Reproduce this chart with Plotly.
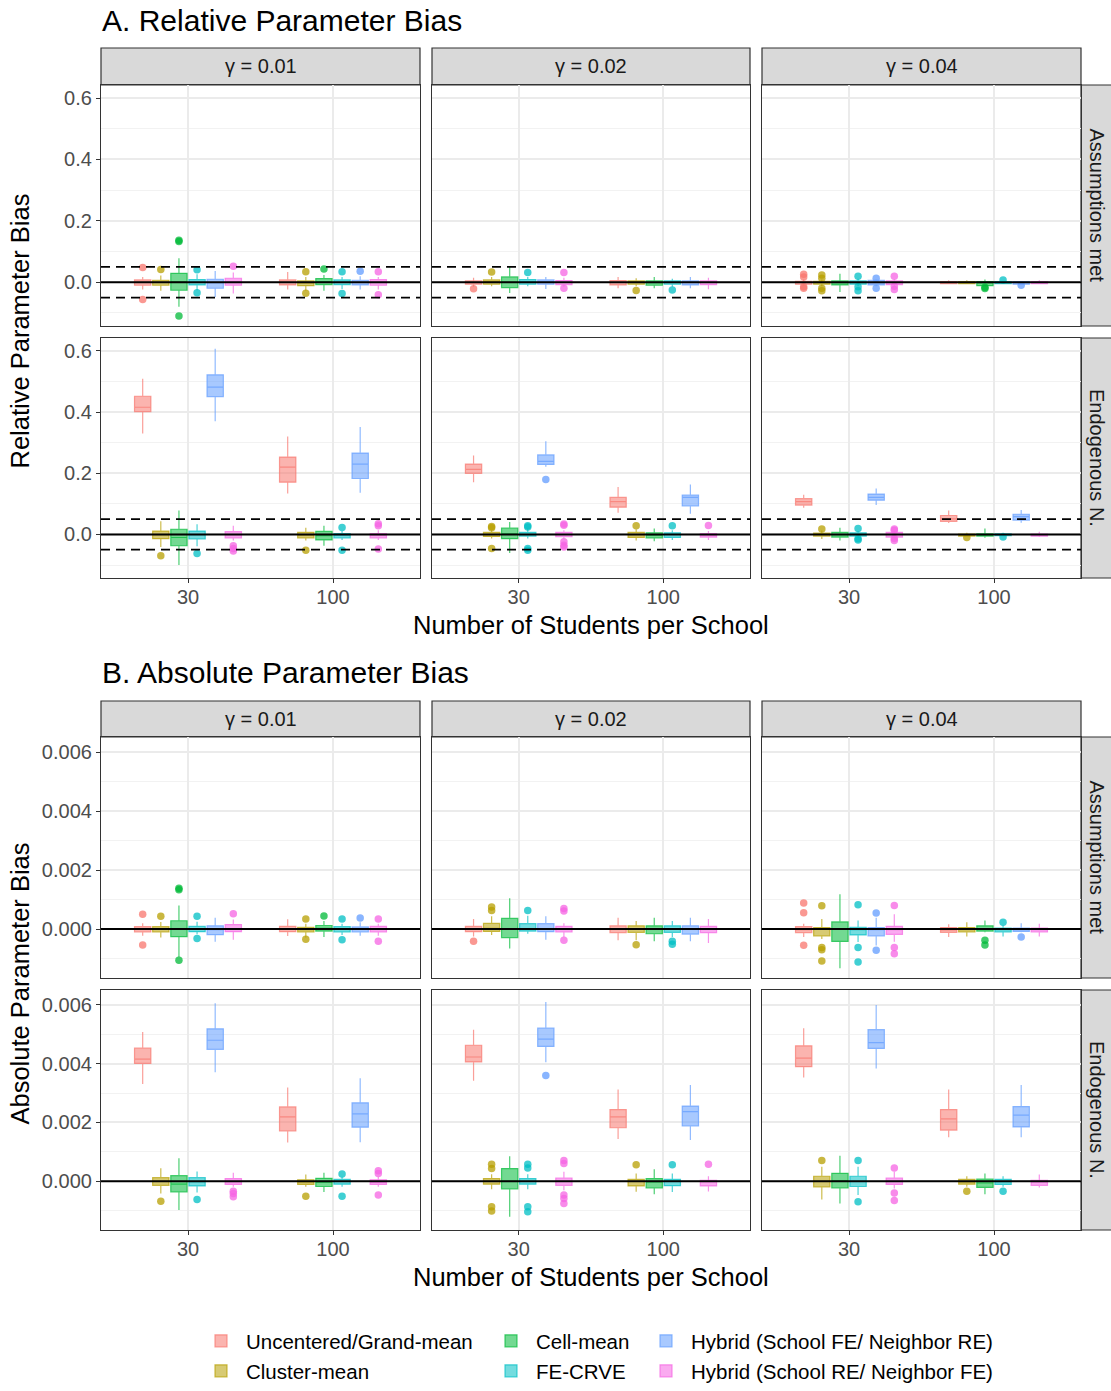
import plotly.graph_objects as go

W, H = 1111, 1391

methods = ["Uncentered/Grand-mean", "Cluster-mean", "Cell-mean", "FE-CRVE",
           "Hybrid (School FE/ Neighbor RE)", "Hybrid (School RE/ Neighbor FE)"]
colors = ["#F8766D", "#B79F00", "#00BA38", "#00BFC4", "#619CFF", "#F564E3"]
n_students = ["30", "100"]
gammas = ["γ = 0.01", "γ = 0.02", "γ = 0.04"]
row_labels = ["Assumptions met", "Endogenous N."]
section_titles = ["A. Relative Parameter Bias", "B. Absolute Parameter Bias"]
y_titles = ["Relative Parameter Bias", "Absolute Parameter Bias"]
x_title = "Number of Students per School"

# each stat: 6 methods x [n=30, n=100]
rel_met_g01 = dict(
    lo=[[-0.024, -0.024], [-0.028, -0.028], [-0.080, -0.028], [-0.026, -0.0217], [-0.048, -0.024], [-0.037, -0.024]],
    q1=[[-0.0098, -0.0087], [-0.0098, -0.011], [-0.026, -0.0076], [-0.0087, -0.0076], [-0.0196, -0.0087], [-0.0098, -0.0098]],
    med=[[0.0, 0.0], [0.0, -0.002], [0.001, 0.002], [0.0, 0.0], [-0.001, 0.0], [0.001, 0.001]],
    q3=[[0.0076, 0.0076], [0.0065, 0.0043], [0.029, 0.012], [0.0087, 0.0076], [0.0098, 0.0065], [0.013, 0.0087]],
    hi=[[0.0174, 0.0337], [0.0217, 0.0174], [0.078, 0.024], [0.026, 0.0174], [0.037, 0.0196], [0.0315, 0.0174]],
    out=[[[0.048, -0.0565], []], [[0.0413], [0.034, -0.036]], [[0.137, 0.133, -0.110], [0.0435]],
         [[0.041, -0.034], [0.034, -0.037]], [[], [0.036]], [[0.052], [0.034, -0.041]]])
rel_met_g02 = dict(
    lo=[[-0.015, -0.0196], [-0.013, -0.013], [-0.035, -0.0196], [-0.013, -0.015], [-0.0217, -0.0196], [-0.015, -0.023]],
    q1=[[-0.0065, -0.0087], [-0.0065, -0.0065], [-0.0174, -0.0098], [-0.0065, -0.0065], [-0.0065, -0.0087], [-0.0076, -0.0076]],
    med=[[-0.001, 0.0], [0.002, 0.001], [0.0, -0.001], [0.001, 0.0], [0.002, 0.0], [0.0, 0.0]],
    q3=[[0.0043, 0.0054], [0.0076, 0.0043], [0.0174, 0.0043], [0.0087, 0.0043], [0.0076, 0.0043], [0.0054, 0.0043]],
    hi=[[0.015, 0.0174], [0.0174, 0.013], [0.05, 0.0174], [0.0174, 0.011], [0.0174, 0.0174], [0.015, 0.015]],
    out=[[[-0.021], []], [[0.033], [-0.027]], [[], []], [[0.0315], [-0.025]], [[], []], [[0.0315, -0.0196], []]])
rel_met_g04 = dict(
    lo=[[-0.011, -0.0065], [-0.013, -0.0065], [-0.0315, -0.012], [-0.013, -0.0065], [-0.013, -0.007], [-0.011, -0.0065]],
    q1=[[-0.0065, -0.0043], [-0.0065, -0.0043], [-0.0087, -0.011], [-0.0065, -0.0043], [-0.0087, -0.0065], [-0.0076, -0.0043]],
    med=[[0.0, 0.0], [-0.001, 0.0], [-0.001, -0.002], [-0.001, 0.0], [-0.002, -0.001], [-0.001, -0.001]],
    q3=[[0.0033, 0.0022], [0.0033, 0.0022], [0.0043, 0.0022], [0.0043, 0.0022], [0.0065, 0.0022], [0.0043, 0.0022]],
    hi=[[0.0087, 0.0065], [0.0087, 0.0065], [0.028, 0.0087], [0.011, 0.003], [0.0087, 0.0043], [0.0087, 0.0065]],
    out=[[[0.026, 0.0174, -0.015, -0.0196], []], [[0.024, 0.013, -0.0196, -0.028], []], [[], [-0.016, -0.02]],
         [[0.0196, -0.015, -0.028], [0.007]], [[0.013, -0.0196], [-0.0095]], [[0.0196, -0.013, -0.024], []]])
rel_end_g01 = dict(
    lo=[[0.330, 0.134], [-0.041, -0.020], [-0.100, -0.037], [-0.039, -0.018], [0.370, 0.136], [-0.020, -0.018]],
    q1=[[0.402, 0.171], [-0.014, -0.011], [-0.037, -0.018], [-0.015, -0.011], [0.451, 0.183], [-0.011, -0.011]],
    med=[[0.416, 0.220], [-0.001, -0.002], [-0.010, -0.004], [-0.001, -0.002], [0.482, 0.230], [-0.001, -0.002]],
    q3=[[0.452, 0.253], [0.011, 0.0065], [0.017, 0.010], [0.011, 0.003], [0.522, 0.266], [0.009, 0.003]],
    hi=[[0.509, 0.320], [0.043, 0.022], [0.078, 0.028], [0.033, 0.011], [0.607, 0.351], [0.028, 0.014]],
    out=[[[], []], [[-0.070], [-0.052]], [[], []], [[-0.062], [0.023, -0.052]], [[], []],
         [[-0.037, -0.046, -0.054], [0.035, 0.028, -0.048]]])
rel_end_g02 = dict(
    lo=[[0.171, 0.071], [-0.013, -0.020], [-0.061, -0.022], [-0.013, -0.018], [0.221, 0.068], [-0.013, -0.018]],
    q1=[[0.200, 0.089], [-0.0065, -0.0098], [-0.014, -0.011], [-0.0054, -0.0098], [0.229, 0.093], [-0.0076, -0.0087]],
    med=[[0.213, 0.107], [0.0, -0.001], [0.002, -0.002], [0.0, 0.0], [0.239, 0.121], [0.0, -0.002]],
    q3=[[0.230, 0.121], [0.0065, 0.0065], [0.021, 0.0054], [0.0065, 0.0054], [0.260, 0.129], [0.0065, 0.003]],
    hi=[[0.258, 0.155], [0.014, 0.017], [0.041, 0.0196], [0.0196, 0.014], [0.305, 0.163], [0.014, 0.011]],
    out=[[[], []], [[0.026, 0.022, -0.046], [0.028]], [[], []], [[0.028, 0.024, -0.046, -0.052], [0.028]],
         [[0.180], []], [[0.034, 0.030, -0.024, -0.035, -0.041], [0.029]]])
rel_end_g04 = dict(
    lo=[[0.087, 0.037], [-0.015, -0.0065], [-0.020, -0.011], [-0.0098, -0.0054], [0.096, 0.038], [-0.0098, -0.0087]],
    q1=[[0.096, 0.043], [-0.0054, -0.0054], [-0.0087, -0.0054], [-0.0054, -0.0043], [0.112, 0.047], [-0.0087, -0.0054]],
    med=[[0.107, 0.051], [0.0, -0.001], [-0.001, -0.001], [0.0, -0.001], [0.121, 0.058], [0.0, -0.002]],
    q3=[[0.117, 0.062], [0.0043, 0.001], [0.0065, 0.002], [0.0054, 0.002], [0.132, 0.066], [0.0065, 0.001]],
    hi=[[0.130, 0.078], [0.013, 0.0054], [0.022, 0.0196], [0.011, 0.0054], [0.150, 0.080], [0.011, 0.0087]],
    out=[[[], []], [[0.018], [-0.0098]], [[], []], [[0.0196, -0.014, -0.018], [-0.0087]], [[], []],
         [[0.014, 0.018, -0.013, -0.020], []]])

abs_met_g01 = dict(
    lo=[[-0.00023, -0.00024], [-0.00029, -0.00029], [-0.00095, -0.00027], [-0.00018, -0.00020], [-0.00043, -0.00023], [-0.00036, -0.00023]],
    q1=[[-0.00010, -0.00009], [-0.00010, -0.00010], [-0.00026, -0.00007], [-0.00009, -0.00010], [-0.00019, -0.00010], [-0.00009, -0.00010]],
    med=[[0.0, 0.0], [0.0, -0.00002], [0.00001, 0.00002], [0.0, 0.0], [-0.00002, 0.0], [0.00001, 0.0]],
    q3=[[0.00008, 0.00009], [0.00008, 0.00006], [0.00028, 0.00012], [0.00009, 0.00008], [0.00011, 0.00007], [0.00015, 0.00009]],
    hi=[[0.00020, 0.00033], [0.00024, 0.00018], [0.00080, 0.00027], [0.00025, 0.00018], [0.00038, 0.00023], [0.00032, 0.00018]],
    out=[[[0.00050, -0.00054], []], [[0.00043], [0.00034, -0.00035]], [[0.00138, 0.00133, -0.00106], [0.00044]],
         [[0.00043, -0.00032], [0.00034, -0.00036]], [[], [0.00037]], [[0.00052], [0.00034, -0.00041]]])
abs_met_g02 = dict(
    lo=[[-0.00025, -0.00038], [-0.00020, -0.00038], [-0.00066, -0.00041], [-0.00016, -0.00027], [-0.00036, -0.00041], [-0.00027, -0.00047]],
    q1=[[-0.00009, -0.00012], [-0.00008, -0.00011], [-0.00029, -0.00016], [-0.00007, -0.00011], [-0.00009, -0.00017], [-0.00010, -0.00012]],
    med=[[0.0, 0.0], [0.00002, 0.00001], [0.0, 0.0], [0.00001, 0.00001], [0.0, 0.0], [0.0, 0.0]],
    q3=[[0.00009, 0.00011], [0.00019, 0.00011], [0.00036, 0.00011], [0.00018, 0.00011], [0.00018, 0.00011], [0.00009, 0.00009]],
    hi=[[0.00034, 0.00038], [0.00043, 0.00027], [0.00104, 0.00038], [0.00045, 0.00027], [0.00043, 0.00038], [0.00020, 0.00034]],
    out=[[[-0.00041], []], [[0.00075, 0.00063], [-0.00053]], [[], []], [[0.00063], [-0.00041, -0.00052]], [[], []],
         [[0.00070, 0.00061, -0.00038], []]])
abs_met_g04 = dict(
    lo=[[-0.00027, -0.00027], [-0.00034, -0.00025], [-0.00133, -0.00011], [-0.00044, -0.00025], [-0.00056, -0.00011], [-0.00043, -0.00025]],
    q1=[[-0.00012, -0.00011], [-0.00023, -0.00010], [-0.00042, -0.00007], [-0.00020, -0.00010], [-0.00023, -0.00008], [-0.00018, -0.00010]],
    med=[[-0.00002, -0.00003], [0.0, -0.00002], [0.0, 0.0], [-0.00002, -0.00002], [-0.00002, -0.00002], [-0.00002, -0.00002]],
    q3=[[0.00008, 0.00005], [0.00005, 0.00005], [0.00024, 0.00011], [0.00006, 0.00003], [0.00005, 0.00003], [0.00009, 0.00003]],
    hi=[[0.00018, 0.00016], [0.00034, 0.00023], [0.00118, 0.00029], [0.00029, 0.00012], [0.00038, 0.00020], [0.00050, 0.00018]],
    out=[[[0.00088, 0.00055, -0.00055], []], [[0.00079, -0.00063, -0.00070, -0.00108], []], [[], [-0.00038, -0.00054]],
         [[0.00082, -0.00063, -0.00112], [0.00023]], [[0.00054, -0.00072], [-0.00027]], [[0.00080, -0.00063, -0.00084], []]])
abs_end_g01 = dict(
    lo=[[0.00331, 0.00132], [-0.00042, -0.00019], [-0.00098, -0.00037], [-0.00038, -0.00019], [0.00371, 0.00133], [-0.00019, -0.00019]],
    q1=[[0.00401, 0.00171], [-0.00014, -0.00011], [-0.00036, -0.00018], [-0.00016, -0.00010], [0.00449, 0.00184], [-0.00011, -0.00011]],
    med=[[0.00416, 0.00219], [0.0, -0.00002], [-0.00010, -0.00003], [-0.00001, 0.0], [0.00480, 0.00229], [-0.00001, -0.00003]],
    q3=[[0.00453, 0.00253], [0.00012, 0.00005], [0.00019, 0.00010], [0.00012, 0.00006], [0.00519, 0.00267], [0.00009, 0.00005]],
    hi=[[0.00508, 0.00319], [0.00044, 0.00023], [0.00078, 0.00029], [0.00033, 0.00015], [0.00606, 0.00351], [0.00029, 0.00015]],
    out=[[[], []], [[-0.00068], [-0.00051]], [[], []], [[-0.00062], [0.00025, -0.00051]], [[], []],
         [[-0.00034, -0.00042, -0.00053], [0.00036, 0.00026, -0.00047]]])
abs_end_g02 = dict(
    lo=[[0.00342, 0.00144], [-0.00027, -0.00036], [-0.00121, -0.00044], [-0.00027, -0.00037], [0.00405, 0.00140], [-0.00031, -0.00035]],
    q1=[[0.00406, 0.00182], [-0.00010, -0.00016], [-0.00026, -0.00023], [-0.00010, -0.00015], [0.00459, 0.00188], [-0.00014, -0.00016]],
    med=[[0.00423, 0.00219], [0.0, 0.0], [0.0, -0.00002], [0.0, 0.00001], [0.00484, 0.00237], [0.0, -0.00001]],
    q3=[[0.00463, 0.00244], [0.00009, 0.00006], [0.00043, 0.00009], [0.00009, 0.00006], [0.00521, 0.00256], [0.00011, 0.00003]],
    hi=[[0.00516, 0.00312], [0.00024, 0.00026], [0.00085, 0.00041], [0.00024, 0.00026], [0.00610, 0.00328], [0.00032, 0.00017]],
    out=[[[], []], [[0.00058, 0.00043, -0.00087, -0.00101], [0.00056]], [[], []],
         [[0.00058, 0.00045, -0.00087, -0.00104], [0.00056]], [[0.00360], []],
         [[0.00071, 0.00060, -0.00047, -0.00059, -0.00076], [0.00058]]])
abs_end_g04 = dict(
    lo=[[0.00353, 0.00150], [-0.00062, -0.00019], [-0.00076, -0.00044], [-0.00047, -0.00019], [0.00384, 0.00150], [-0.00025, -0.00021]],
    q1=[[0.00390, 0.00174], [-0.00019, -0.00010], [-0.00023, -0.00021], [-0.00018, -0.00011], [0.00452, 0.00185], [-0.00011, -0.00014]],
    med=[[0.00419, 0.00212], [0.0, -0.00002], [0.00001, -0.00006], [0.0, -0.00001], [0.00472, 0.00225], [0.0, -0.00002]],
    q3=[[0.00461, 0.00244], [0.00017, 0.00006], [0.00027, 0.00007], [0.00017, 0.00006], [0.00516, 0.00254], [0.00011, 0.00003]],
    hi=[[0.00521, 0.00312], [0.00049, 0.00017], [0.00087, 0.00026], [0.00049, 0.00017], [0.00600, 0.00328], [0.00032, 0.00023]],
    out=[[[], []], [[0.00071], [-0.00034]], [[], []], [[0.00071, -0.00070], [-0.00034]], [[], []],
         [[0.00045, -0.00040, -0.00066], []]])

panels = [
    [[rel_met_g01, rel_met_g02, rel_met_g04], [rel_end_g01, rel_end_g02, rel_end_g04]],
    [[abs_met_g01, abs_met_g02, abs_met_g04], [abs_end_g01, abs_end_g02, abs_end_g04]],
]

y_ranges = [[-0.1425, 0.6425], [-0.00166, 0.00651]]
y_ticks = [[0.0, 0.2, 0.4, 0.6], [0.0, 0.002, 0.004, 0.006]]
y_ticktext = [["0.0", "0.2", "0.4", "0.6"], ["0.000", "0.002", "0.004", "0.006"]]
y_minor = [0.1, 0.001]
dashed_ref = [0.05, None]

# layout geometry (pixels)
col_px = [(101, 420), (432, 750), (762, 1081)]
row_px = [[(85, 326), (338, 578)], [(737, 978), (990, 1230)]]
strip_px = [(48, 85), (701, 737)]
title_py = [20, 672]
xtitle_py = [625, 1277]

FONT = "Liberation Sans, Arial, sans-serif"


def fx(p):
    return p / W


def fy(p):
    return 1 - p / H


def rgba(h, a):
    h = h.lstrip("#")
    return "rgba(%d,%d,%d,%s)" % (int(h[0:2], 16), int(h[2:4], 16), int(h[4:6], 16), a)


def sample(outs):
    # outlier samples per box; a placeholder keeps the nested shape when a box has none
    return [o if len(o) else [None] for o in outs]


legend_of = ["legend", "legend2", "legend3", "legend4", "legend5", "legend6"]

fig = go.Figure()
layout = {}
shapes = []
annotations = []

for s in range(2):
    for r in range(2):
        for c in range(3):
            k = s * 6 + r * 3 + c + 1
            sfx = "" if k == 1 else str(k)
            xa, ya = "x" + sfx, "y" + sfx
            d = panels[s][r][c]
            for m in range(6):
                fig.add_trace(go.Box(
                    x=n_students,
                    q1=d["q1"][m], median=d["med"][m], q3=d["q3"][m],
                    lowerfence=d["lo"][m], upperfence=d["hi"][m],
                    y=sample(d["out"][m]),
                    orientation="v",
                    boxpoints="outliers", jitter=0, pointpos=0,
                    whiskerwidth=0,
                    name=methods[m], offsetgroup=str(m),
                    legendgroup=methods[m], legend=legend_of[m],
                    showlegend=(k == 1),
                    fillcolor=rgba(colors[m], 0.55),
                    line=dict(color=rgba(colors[m], 0.7), width=1.2),
                    marker=dict(color=rgba(colors[m], 0.75), size=7.5, line=dict(width=0)),
                    xaxis=xa, yaxis=ya, hoverinfo="skip",
                ))
            x0, x1 = col_px[c]
            y0, y1 = row_px[s][r]
            layout["xaxis" + sfx] = dict(
                domain=[fx(x0), fx(x1)], anchor=ya, type="category",
                categoryorder="array", categoryarray=n_students,
                range=[-0.6, 1.6], showgrid=True, gridcolor="#EBEBEB", gridwidth=1.6,
                showline=True, mirror=True, linecolor="#333333", linewidth=1.2,
                zeroline=False,
                ticks="outside" if r == 1 else "", ticklen=4, tickcolor="#333333",
                showticklabels=(r == 1), ticklabelstandoff=-3,
                tickfont=dict(family=FONT, size=20, color="#4D4D4D"),
                fixedrange=True,
            )
            layout["yaxis" + sfx] = dict(
                domain=[fy(y1), fy(y0)], anchor=xa,
                range=y_ranges[s], tickvals=y_ticks[s], ticktext=y_ticktext[s],
                showgrid=True, gridcolor="#EBEBEB", gridwidth=1.6,
                minor=dict(dtick=y_minor[s], tick0=0, showgrid=True,
                           gridcolor="#F2F2F2", gridwidth=1),
                showline=True, mirror=True, linecolor="#333333", linewidth=1.2,
                zeroline=False,
                ticks="outside" if c == 0 else "", ticklen=4, tickcolor="#333333",
                showticklabels=(c == 0),
                tickfont=dict(family=FONT, size=20, color="#4D4D4D"),
                fixedrange=True,
            )
            # reference lines
            shapes.append(dict(type="line", xref=xa + " domain", yref=ya, x0=0, x1=1,
                               y0=0, y1=0, line=dict(color="black", width=2)))
            if dashed_ref[s] is not None:
                for v in (dashed_ref[s], -dashed_ref[s]):
                    shapes.append(dict(type="line", xref=xa + " domain", yref=ya, x0=0, x1=1,
                                       y0=v, y1=v, line=dict(color="black", width=1.8, dash="9px,6px")))
    # top strips
    for c in range(3):
        x0, x1 = col_px[c]
        sy0, sy1 = strip_px[s]
        shapes.append(dict(type="rect", xref="paper", yref="paper",
                           x0=fx(x0), x1=fx(x1), y0=fy(sy1), y1=fy(sy0),
                           fillcolor="#D9D9D9", line=dict(color="#333333", width=1.2), layer="below"))
        annotations.append(dict(text=gammas[c], xref="paper", yref="paper",
                                x=fx((x0 + x1) / 2), y=fy((sy0 + sy1) / 2),
                                showarrow=False, xanchor="center", yanchor="middle",
                                font=dict(family=FONT, size=20, color="#1A1A1A")))
    # right strips
    for r in range(2):
        y0, y1 = row_px[s][r]
        shapes.append(dict(type="rect", xref="paper", yref="paper",
                           x0=fx(1081), x1=fx(1113), y0=fy(y1), y1=fy(y0),
                           fillcolor="#D9D9D9", line=dict(color="#333333", width=1.2), layer="below"))
        annotations.append(dict(text=row_labels[r], xref="paper", yref="paper",
                                x=fx(1097), y=fy((y0 + y1) / 2), textangle=90,
                                showarrow=False, xanchor="center", yanchor="middle",
                                font=dict(family=FONT, size=20, color="#1A1A1A")))
    # section title
    annotations.append(dict(text=section_titles[s], xref="paper", yref="paper",
                            x=fx(100), y=fy(title_py[s]), showarrow=False,
                            xanchor="left", yanchor="middle",
                            font=dict(family=FONT, size=30, color="black")))
    # y title
    annotations.append(dict(text=y_titles[s], xref="paper", yref="paper",
                            x=fx(20), y=fy((row_px[s][0][0] + row_px[s][1][1]) / 2), textangle=-90,
                            showarrow=False, xanchor="center", yanchor="middle",
                            font=dict(family=FONT, size=25.5, color="black")))
    # x title
    annotations.append(dict(text=x_title, xref="paper", yref="paper",
                            x=fx((col_px[0][0] + col_px[2][1]) / 2), y=fy(xtitle_py[s]),
                            showarrow=False, xanchor="center", yanchor="middle",
                            font=dict(family=FONT, size=25.5, color="black")))

legend_style = dict(orientation="v", xanchor="left", bgcolor="rgba(0,0,0,0)",
                    font=dict(family=FONT, size=20.5, color="black"), itemwidth=40)
legend_x = [196, 196, 486, 486, 641, 641]
for m in range(6):
    name = legend_of[m]
    if m % 2 == 0:
        pos = dict(y=fy(1341), yanchor="middle")
    else:
        pos = dict(y=0, yanchor="bottom")
    layout[name] = dict(x=fx(legend_x[m]), **pos, **legend_style)

fig.update_layout(
    width=W, height=H, margin=dict(l=0, r=0, t=0, b=0),
    paper_bgcolor="white", plot_bgcolor="white",
    boxmode="group", boxgap=0.25, boxgroupgap=0.1,
    shapes=shapes, annotations=annotations,
    font=dict(family=FONT),
    **layout,
)

fig.write_html("out.html")
